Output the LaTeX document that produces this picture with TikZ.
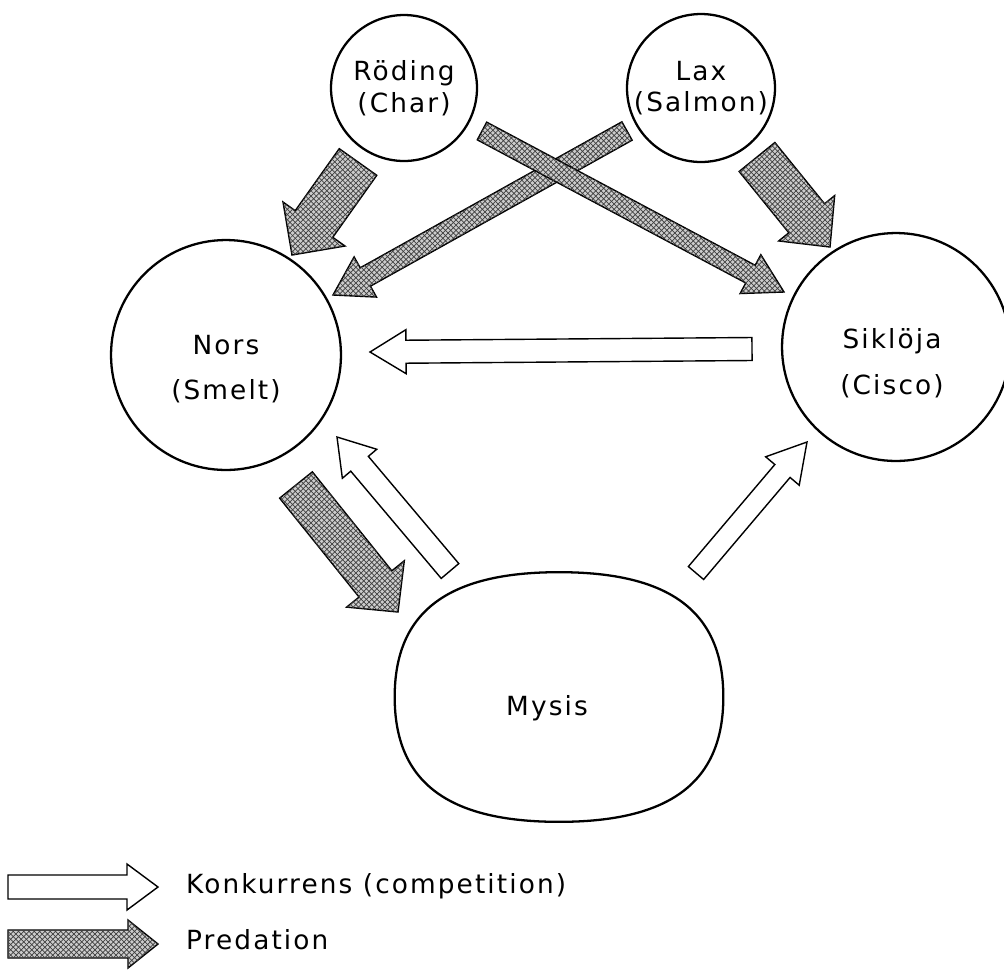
\documentclass[tikz,border=0pt]{standalone}
\usepackage{fontspec}
\setmainfont{DejaVu Sans}[LetterSpace=8]
\usepackage{tikz}
\usetikzlibrary{calc, patterns}

% block arrow: style, tail, tip, shaft half width, head half width, head length
\newcommand{\blockarrow}[6]{%
  \coordinate (ba) at ($(#3)!#6!(#2)$);
  \draw[#1] ($(#2)!#4!90:(#3)$) -- ($(ba)!#4!-90:(#2)$) -- ($(ba)!#5!-90:(#2)$) -- (#3)
    -- ($(ba)!#5!90:(#2)$) -- ($(ba)!#4!90:(#2)$) -- ($(#2)!#4!-90:(#3)$) -- cycle;
}

\begin{document}
\begin{tikzpicture}[x=0.02cm, y=-0.02cm,
    fish/.style={circle, draw, line width=1.3pt, inner sep=0pt},
    fishtext/.style={align=center, font=\fontsize{15}{18}\selectfont},
    comp/.style={draw, line width=0.8pt, fill=white, line join=miter},
    pred/.style={draw, line width=0.8pt, fill=gray!40, line join=miter,
        postaction={pattern=crosshatch, pattern color=black!75}}]

    \useasboundingbox (0,0) rectangle (1004,971);

    % fiskar
    \node[fish, minimum size=2.92cm] (roding) at (404,88) {};
    \node[fish, minimum size=2.96cm] (lax) at (701,88) {};
    \node[fish, minimum size=4.6cm] (nors) at (226,355) {};
    \node[fish, minimum size=4.56cm] (sikloja) at (896,347) {};

    % mysis (rundad oval)
    \node[minimum width=6.56cm, minimum height=4.98cm, inner sep=0pt] (mysis) at (559,697) {};
    \draw[line width=1.3pt] (mysis.east)
        .. controls ($(mysis.east)!0.68!(mysis.north east)$) and ($(mysis.north)!0.68!(mysis.north east)$) .. (mysis.north)
        .. controls ($(mysis.north)!0.68!(mysis.north west)$) and ($(mysis.west)!0.68!(mysis.north west)$) .. (mysis.west)
        .. controls ($(mysis.west)!0.68!(mysis.south west)$) and ($(mysis.south)!0.68!(mysis.south west)$) .. (mysis.south)
        .. controls ($(mysis.south)!0.68!(mysis.south east)$) and ($(mysis.east)!0.68!(mysis.south east)$) .. (mysis.east);

    % namn
    \node[fishtext] (rodingtext) at (roding.center) {Röding\\(Char)};
    \node[fishtext] (laxtext) at (lax.center) {Lax\\(Salmon)};
    \node[fishtext] (norstext) at ([yshift=-0.28cm]nors.center) {Nors\\[8pt](Smelt)};
    \node[fishtext] (siklojatext) at ([xshift=-0.08cm, yshift=-0.32cm]sikloja.center) {Siklöja\\[8pt](Cisco)};
    \node[fishtext] (mysistext) at ([xshift=-0.24cm, yshift=-0.22cm]mysis.center) {Mysis};

    % predation
    \coordinate (rn-a) at (358,162); \coordinate (rn-b) at (292,255);
    \coordinate (ln-a) at (627,131); \coordinate (ln-b) at (333,295);
    \coordinate (rs-a) at (482,131); \coordinate (rs-b) at (784,292);
    \coordinate (ls-a) at (757,157); \coordinate (ls-b) at (830,247);
    \coordinate (nm-a) at (296,485); \coordinate (nm-b) at (398,612);
    \blockarrow{pred}{rn-a}{rn-b}{0.46cm}{0.76cm}{0.76cm}
    \blockarrow{pred}{ln-a}{ln-b}{0.21cm}{0.46cm}{0.74cm}
    \blockarrow{pred}{rs-a}{rs-b}{0.2cm}{0.44cm}{0.76cm}
    \blockarrow{pred}{ls-a}{ls-b}{0.46cm}{0.72cm}{0.74cm}
    \blockarrow{pred}{nm-a}{nm-b}{0.42cm}{0.74cm}{0.72cm}

    % konkurrens
    \coordinate (mn-a) at (450,571); \coordinate (mn-b) at (337,437);
    \coordinate (ms-a) at (696,573); \coordinate (ms-b) at (807,442);
    \coordinate (sn-a) at (752,349); \coordinate (sn-b) at (370,352);
    \blockarrow{comp}{mn-a}{mn-b}{0.23cm}{0.45cm}{0.7cm}
    \blockarrow{comp}{ms-a}{ms-b}{0.2cm}{0.44cm}{0.76cm}
    \blockarrow{comp}{sn-a}{sn-b}{0.23cm}{0.44cm}{0.72cm}

    % teckenförklaring
    \coordinate (lc-a) at (8,887); \coordinate (lc-b) at (158,887);
    \coordinate (lp-a) at (8,944); \coordinate (lp-b) at (158,944);
    \blockarrow{comp}{lc-a}{lc-b}{0.24cm}{0.46cm}{0.62cm}
    \blockarrow{pred}{lp-a}{lp-b}{0.28cm}{0.48cm}{0.6cm}
    \node[fishtext, anchor=west] (lctext) at (180,886) {Konkurrens (competition)};
    \node[fishtext, anchor=west] (lptext) at (180,940) {Predation};
\end{tikzpicture}
\end{document}
